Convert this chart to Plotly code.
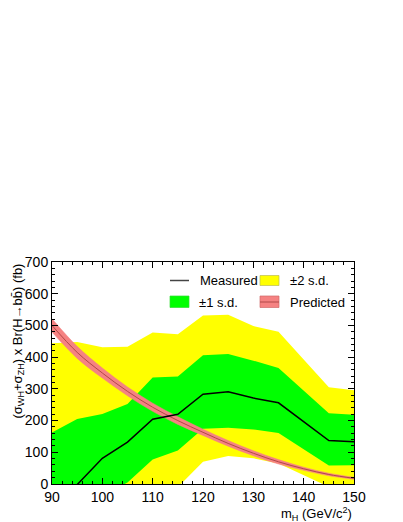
import plotly.graph_objects as go

# ---- data ----
mass = [90, 95, 100, 105, 110, 115, 120, 125, 130, 135, 145, 150]
measured = [-85, -3, 81, 132, 204, 220, 283, 291, 271, 256, 137, 133]
sd1_hi = [162, 205, 221, 252, 336, 339, 406, 410, 389, 366, 223, 218]
sd1_lo = [-120, -80, -40, 5, 77, 106, 174, 177, 172, 161, 58, 59]
sd2_hi = [444, 448, 431, 433, 478, 472, 531, 534, 498, 480, 305, 296]
sd2_lo = [-400, -350, -300, -120, -40, -10, 70, 88, 81, 65, -9, -10]

pred_mass = [90, 95, 100, 105, 110, 115, 120, 125, 130, 135, 140, 145, 150]
predicted = [500, 415, 350, 292, 242, 200, 163, 128, 97, 70, 48, 30, 18]
pred_err = [21, 19, 16, 14, 13, 12, 10, 9, 8, 7, 5, 4, 3]

x_ticks = [90, 100, 110, 120, 130, 140, 150]
y_ticks = [0, 100, 200, 300, 400, 500, 600, 700]

YELLOW = "#ffff00"
GREEN = "#00ff00"
SALMON = "#f58282"
DARKRED = "#b04848"
FONT = "Liberation Sans, Arial, sans-serif"

fig = go.Figure()

# +-2 s.d. band
fig.add_trace(go.Scatter(x=mass, y=sd2_lo, mode="lines", line=dict(width=0, color=YELLOW),
                         showlegend=False, hoverinfo="skip"))
fig.add_trace(go.Scatter(x=mass, y=sd2_hi, mode="lines", line=dict(width=0, color=YELLOW),
                         fill="tonexty", fillcolor=YELLOW, showlegend=False, hoverinfo="skip"))
# +-1 s.d. band
fig.add_trace(go.Scatter(x=mass, y=sd1_lo, mode="lines", line=dict(width=0, color=GREEN),
                         showlegend=False, hoverinfo="skip"))
fig.add_trace(go.Scatter(x=mass, y=sd1_hi, mode="lines", line=dict(width=0, color=GREEN),
                         fill="tonexty", fillcolor=GREEN, showlegend=False, hoverinfo="skip"))

# predicted band
pred_lo = [p - e for p, e in zip(predicted, pred_err)]
pred_hi = [p + e for p, e in zip(predicted, pred_err)]
fig.add_trace(go.Scatter(x=pred_mass, y=pred_lo, mode="lines", line=dict(width=0.5, color=SALMON, shape="spline"),
                         showlegend=False, hoverinfo="skip"))
fig.add_trace(go.Scatter(x=pred_mass, y=pred_hi, mode="lines", line=dict(width=0.5, color=SALMON, shape="spline"),
                         fill="tonexty", fillcolor=SALMON, showlegend=False, hoverinfo="skip"))
fig.add_trace(go.Scatter(x=pred_mass, y=predicted, mode="lines",
                         line=dict(width=1, color=DARKRED, shape="spline"),
                         showlegend=False, hoverinfo="skip"))

# measured
fig.add_trace(go.Scatter(x=mass, y=measured, mode="lines", line=dict(width=1.5, color="black"),
                         showlegend=False, hoverinfo="skip"))

# ---- manual legend (paper coordinates) ----
W, H = 403, 522
L, R, T, B = 52, 49, 262, 38
pw, ph = W - L - R, H - T - B


def px(x):
    return (x - L) / pw


def py(y):
    return 1 - (y - T) / ph


shapes = []
annotations = []
# Measured
shapes.append(dict(type="line", xref="paper", yref="paper", x0=px(170), x1=px(189), y0=py(280.5), y1=py(280.5),
                   line=dict(color="#444444", width=1.5)))
annotations.append(dict(text="Measured", x=px(198), y=py(280.5), xref="paper", yref="paper",
                        xanchor="left", yanchor="middle", showarrow=False))
# +-2 s.d.
shapes.append(dict(type="rect", xref="paper", yref="paper", x0=px(260), x1=px(279), y0=py(285.5), y1=py(275.5),
                   fillcolor=YELLOW, line=dict(color="#bbbb55", width=0.7)))
annotations.append(dict(text="±2 s.d.", x=px(288), y=py(280.5), xref="paper", yref="paper",
                        xanchor="left", yanchor="middle", showarrow=False))
# +-1 s.d.
shapes.append(dict(type="rect", xref="paper", yref="paper", x0=px(170), x1=px(189), y0=py(307.5), y1=py(296),
                   fillcolor=GREEN, line=dict(color="#33dd33", width=0.7)))
annotations.append(dict(text="±1 s.d.", x=px(197), y=py(302), xref="paper", yref="paper",
                        xanchor="left", yanchor="middle", showarrow=False))
# Predicted
shapes.append(dict(type="rect", xref="paper", yref="paper", x0=px(260), x1=px(279), y0=py(307.5), y1=py(296),
                   fillcolor=SALMON, line=dict(color="#d06a6a", width=0.7)))
shapes.append(dict(type="line", xref="paper", yref="paper", x0=px(260), x1=px(279), y0=py(302), y1=py(302),
                   line=dict(color=DARKRED, width=1)))
annotations.append(dict(text="Predicted", x=px(288), y=py(302), xref="paper", yref="paper",
                        xanchor="left", yanchor="middle", showarrow=False))

# axis titles
annotations.append(dict(text="(σ<sub>WH</sub>+σ<sub>ZH</sub>) x Br(H→bb\u0304) (fb)",
                        x=px(18), y=1.0, xref="paper", yref="paper", textangle=-90,
                        xanchor="center", yanchor="top", showarrow=False, font=dict(size=13)))
annotations.append(dict(text="m<sub>H</sub> (GeV/c<sup>2</sup>)",
                        x=1.0, y=py(513.5), xref="paper", yref="paper",
                        xanchor="right", yanchor="middle", showarrow=False, font=dict(size=13)))

fig.update_layout(
    width=W, height=H,
    margin=dict(l=L, r=R, t=T, b=B, pad=0),
    paper_bgcolor="white", plot_bgcolor="white",
    font=dict(family=FONT, size=13, color="black"),
    showlegend=False,
    shapes=shapes,
    annotations=annotations,
)
fig.update_xaxes(range=[90, 150], tickvals=x_ticks, ticktext=[str(v) for v in x_ticks],
                 ticks="inside", ticklen=6, tickwidth=1, tickcolor="black",
                 minor=dict(ticks="inside", dtick=2, ticklen=3, tickcolor="black", tickwidth=1, showgrid=False),
                 showline=True, linecolor="black", linewidth=1, mirror="allticks",
                 showgrid=False, zeroline=False, tickfont=dict(size=14))
fig.update_yaxes(range=[0, 700], tickvals=y_ticks, ticktext=[str(v) for v in y_ticks],
                 ticks="inside", ticklen=6, tickwidth=1, tickcolor="black",
                 minor=dict(ticks="inside", dtick=20, ticklen=3, tickcolor="black", tickwidth=1, showgrid=False),
                 showline=True, linecolor="black", linewidth=1, mirror="allticks",
                 showgrid=False, zeroline=False, tickfont=dict(size=14))

fig.write_html("out.html", config={"displayModeBar": False},
               post_script="document.body.style.margin='0';document.body.style.overflow='hidden';")
